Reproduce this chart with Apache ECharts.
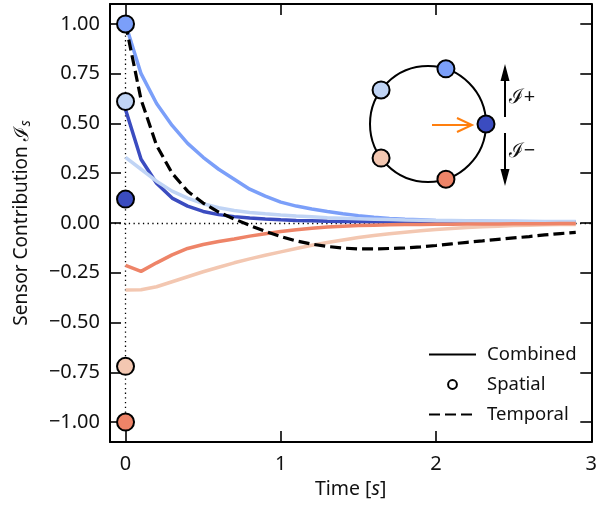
<!DOCTYPE html>
<html>
<head>
<meta charset="utf-8">
<script src="https://cdn.jsdelivr.net/npm/echarts@6/dist/echarts.min.js"></script>
<style>
html, body { margin: 0; padding: 0; background: #fff; }
#chart { width: 600px; height: 507px; }
</style>
</head>
<body>
<div id="chart"></div>
<script>
// time samples [s]
var times = [0, 0.1, 0.2, 0.3, 0.4, 0.5, 0.6, 0.7, 0.8, 0.9,
             1.0, 1.1, 1.2, 1.3, 1.4, 1.5, 1.6, 1.7, 1.8, 1.9,
             2.0, 2.1, 2.2, 2.3, 2.4, 2.5, 2.6, 2.7, 2.8, 2.9];

// combined contribution per sensor
var combDark = [0.57, 0.32, 0.20, 0.125, 0.085, 0.058, 0.042, 0.032, 0.025, 0.02,
                0.016, 0.013, 0.011, 0.009, 0.008, 0.007, 0.006, 0.005, 0.005, 0.004,
                0.004, 0.003, 0.003, 0.003, 0.002, 0.002, 0.002, 0.002, 0.002, 0.002];
var combMid = [1.0, 0.75, 0.6, 0.49, 0.40, 0.33, 0.27, 0.22, 0.17, 0.135,
               0.105, 0.085, 0.07, 0.058, 0.047, 0.037, 0.029, 0.023, 0.019, 0.016,
               0.013, 0.011, 0.01, 0.009, 0.008, 0.007, 0.006, 0.006, 0.005, 0.005];
var combLight = [0.33, 0.27, 0.21, 0.16, 0.125, 0.097, 0.077, 0.063, 0.053, 0.046,
                 0.04, 0.035, 0.031, 0.027, 0.024, 0.021, 0.019, 0.017, 0.015, 0.014,
                 0.013, 0.012, 0.011, 0.01, 0.01, 0.009, 0.009, 0.008, 0.008, 0.008];
var combLightOr = [-0.337, -0.335, -0.32, -0.295, -0.27, -0.245, -0.222, -0.2, -0.18, -0.162,
                   -0.145, -0.128, -0.112, -0.098, -0.085, -0.073, -0.063, -0.054, -0.046, -0.039,
                   -0.033, -0.028, -0.023, -0.019, -0.016, -0.013, -0.011, -0.009, -0.008, -0.007];
var combOrange = [-0.213, -0.243, -0.2, -0.16, -0.128, -0.108, -0.093, -0.08, -0.066, -0.054,
                  -0.043, -0.034, -0.026, -0.02, -0.016, -0.013, -0.011, -0.009, -0.008, -0.007,
                  -0.006, -0.006, -0.005, -0.005, -0.005, -0.004, -0.004, -0.004, -0.003, -0.003];
// temporal contribution (dashed)
var temporal = [1.0, 0.62, 0.39, 0.25, 0.16, 0.1, 0.055, 0.02, -0.012, -0.042,
                -0.068, -0.09, -0.106, -0.118, -0.126, -0.13, -0.13, -0.128, -0.125, -0.12,
                -0.113, -0.105, -0.097, -0.09, -0.082, -0.075, -0.068, -0.06, -0.053, -0.047];

// spatial contribution at t = 0, one per sensor
var spatialVals = [0.12, 1.0, 0.61, -0.72, -1.0];
var sensorColors = ['#3b4cc0', '#7b9ff9', '#c0d4f5', '#f3c7b1', '#ee8468'];
var sensorAngles = [0, 72, 144, 216, 288];

var xTicks = [0, 1, 2, 3];
var yTicks = [-1, -0.75, -0.5, -0.25, 0, 0.25, 0.5, 0.75, 1];

var combined = [combDark, combMid, combLight, combLightOr, combOrange];

function pairs(vals) {
  return times.map(function (t, i) { return [t, vals[i]]; });
}

var fontFam = 'Noto Sans';
var txt = '#111';

var series = [];
// dotted guide lines
series.push({
  type: 'line', data: [[0, 0]], symbol: 'none', lineStyle: { opacity: 0 }, silent: true,
  markLine: {
    silent: true, symbol: 'none', z: 1, animation: false,
    label: { show: false },
    lineStyle: { color: '#000', width: 1.3, type: [1.3, 3.4] },
    data: [{ yAxis: 0 }, [{ coord: [0, -1] }, { coord: [0, 1] }]]
  }
});
combined.forEach(function (vals, i) {
  series.push({
    type: 'line', data: pairs(vals), symbol: 'none', z: 3, silent: true,
    lineStyle: { color: sensorColors[i], width: 3.5 }
  });
});
series.push({
  name: 'Temporal', type: 'line', data: pairs(temporal), symbol: 'none', z: 4,
  itemStyle: { color: '#000' },
  lineStyle: { color: '#000', width: 3.2, type: [11, 5] }
});
series.push({
  type: 'scatter', z: 6, symbolSize: 17, clip: false,
  itemStyle: { borderColor: '#000', borderWidth: 2, opacity: 1 },
  data: spatialVals.map(function (v, i) {
    return { value: [0, v], itemStyle: { color: sensorColors[i] } };
  })
});
// legend-only entries
series.push({
  name: 'Combined', type: 'line', data: [], symbol: 'none',
  itemStyle: { color: '#000' }, lineStyle: { color: '#000', width: 2 }
});
series.push({
  name: 'Spatial', type: 'line', data: [], symbol: 'circle',
  itemStyle: { color: '#fff', borderColor: '#000', borderWidth: 2 },
  lineStyle: { color: '#000', width: 0, opacity: 0 }
});

// inset diagram
var cx = 428, cy = 124, R = 58;
var graphic = [{
  type: 'circle', z: 20, shape: { cx: cx, cy: cy, r: R },
  style: { fill: 'none', stroke: '#000', lineWidth: 2 }
}];
sensorAngles.forEach(function (a, i) {
  var rad = a * Math.PI / 180;
  graphic.push({
    type: 'circle', z: 21,
    shape: { cx: cx + R * Math.cos(rad), cy: cy - R * Math.sin(rad), r: 8.5 },
    style: { fill: sensorColors[i], stroke: '#000', lineWidth: 2 }
  });
});
graphic.push(
  { type: 'polyline', z: 21, shape: { points: [[432, 125], [471, 125]] }, style: { stroke: '#ff7f0e', lineWidth: 2, fill: null } },
  { type: 'polyline', z: 21, shape: { points: [[457, 118], [472, 125], [457, 132]] }, style: { stroke: '#ff7f0e', lineWidth: 2, fill: null } },
  { type: 'line', z: 21, shape: { x1: 505, y1: 117, x2: 505, y2: 78 }, style: { stroke: '#000', lineWidth: 2 } },
  { type: 'polygon', z: 21, shape: { points: [[505, 64], [500.5, 81], [509.5, 81]] }, style: { fill: '#000' } },
  { type: 'line', z: 21, shape: { x1: 505, y1: 133, x2: 505, y2: 172 }, style: { stroke: '#000', lineWidth: 2 } },
  { type: 'polygon', z: 21, shape: { points: [[505, 186], [500.5, 169], [509.5, 169]] }, style: { fill: '#000' } },
  { type: 'text', z: 21, x: 509, y: 97, style: { text: 'ℐ+', fontSize: 20, fontFamily: fontFam, fill: txt, verticalAlign: 'middle' } },
  { type: 'text', z: 21, x: 509, y: 151, style: { text: 'ℐ−', fontSize: 20, fontFamily: fontFam, fill: txt, verticalAlign: 'middle' } }
);

var axisLineStyle = { color: '#000', width: 2 };
var tickStyle = { color: '#000', width: 1.6 };

var option = {
  animation: false,
  backgroundColor: '#fff',
  textStyle: { fontFamily: fontFam },
  grid: { left: 110, right: 5, top: 4, bottom: 65 },
  legend: {
    orient: 'vertical', left: 423, top: 340,
    itemWidth: 47, itemHeight: 11, itemGap: 11,
    textStyle: { fontSize: 18.5, color: txt, fontFamily: fontFam, padding: [0, 0, 0, 6] },
    data: [
      { name: 'Combined', itemStyle: { opacity: 0 } },
      { name: 'Spatial', lineStyle: { opacity: 0 } },
      { name: 'Temporal', itemStyle: { opacity: 0 } }
    ]
  },
  xAxis: [{
    type: 'value', min: -0.1, max: 3, position: 'bottom',
    name: '{a|Time [}{i|s}{a|]}', nameLocation: 'middle', nameGap: 37,
    nameTextStyle: { rich: {
      a: { fontSize: 19.5, color: txt, fontFamily: fontFam },
      i: { fontSize: 19.5, color: txt, fontFamily: fontFam, fontStyle: 'italic' }
    } },
    axisLine: { show: true, onZero: false, lineStyle: axisLineStyle },
    axisTick: { show: true, inside: true, length: 11, lineStyle: tickStyle, customValues: xTicks },
    axisLabel: { customValues: xTicks, fontSize: 20, color: txt, margin: 12 },
    splitLine: { show: false }
  }, {
    type: 'value', min: -0.1, max: 3, position: 'top',
    axisLine: { show: true, onZero: false, lineStyle: axisLineStyle },
    axisTick: { show: true, inside: true, length: 11, lineStyle: tickStyle, customValues: xTicks },
    axisLabel: { show: false },
    splitLine: { show: false }
  }],
  yAxis: [{
    type: 'value', min: -1.1, max: 1.1, position: 'left',
    name: '{a|Sensor Contribution }{b|ℐ}{s|s}', nameLocation: 'middle', nameGap: 77, nameRotate: 90,
    nameTextStyle: { rich: {
      a: { fontSize: 19, color: txt, fontFamily: fontFam },
      b: { fontSize: 20, color: txt, fontFamily: fontFam },
      s: { fontSize: 14, color: txt, fontFamily: fontFam, fontStyle: 'italic', padding: [8, 0, 0, 0] }
    } },
    axisLine: { show: true, onZero: false, lineStyle: axisLineStyle },
    axisTick: { show: true, inside: true, length: 11, lineStyle: tickStyle, customValues: yTicks },
    axisLabel: {
      customValues: yTicks, fontSize: 20, color: txt, margin: 10,
      formatter: function (v) { return v.toFixed(2).replace('-', '\u2212'); }
    },
    splitLine: { show: false }
  }, {
    type: 'value', min: -1.1, max: 1.1, position: 'right',
    axisLine: { show: true, onZero: false, lineStyle: axisLineStyle },
    axisTick: { show: true, inside: true, length: 11, lineStyle: tickStyle, customValues: yTicks },
    axisLabel: { show: false },
    splitLine: { show: false }
  }],
  graphic: graphic,
  series: series
};

var chart = echarts.init(document.getElementById('chart'), null, { renderer: 'canvas' });
chart.setOption(option);
</script>
</body>
</html>
